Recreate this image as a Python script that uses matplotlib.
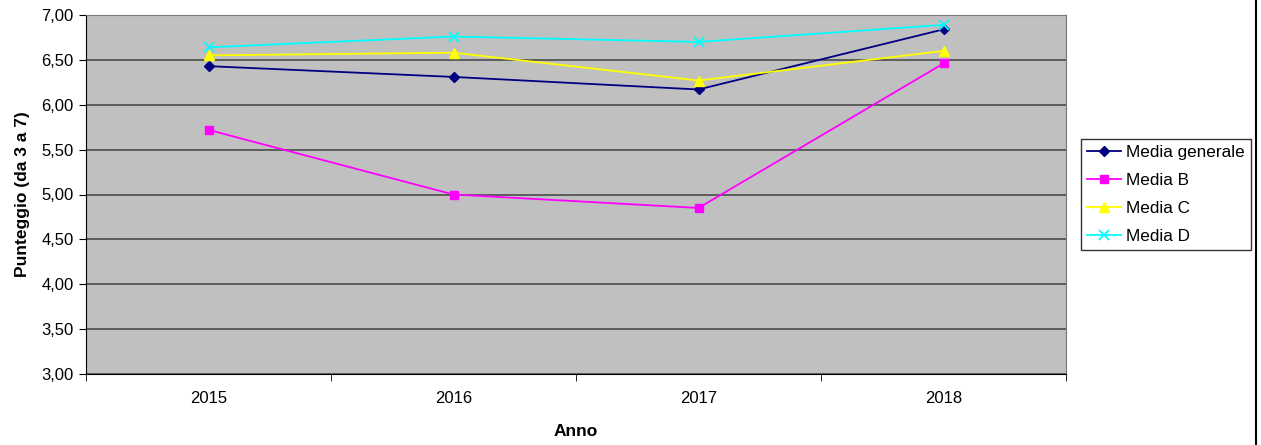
import numpy as np
import matplotlib.pyplot as plt
from matplotlib.lines import Line2D
from matplotlib.ticker import FixedLocator, FuncFormatter

plt.rcParams['font.family'] = ['Liberation Sans', 'DejaVu Sans']

# Dati
anni = ["2015", "2016", "2017", "2018"]
media_generale = [6.43, 6.31, 6.17, 6.84]
media_b = [5.72, 5.00, 4.85, 6.46]
media_c = [6.55, 6.58, 6.27, 6.60]
media_d = [6.64, 6.76, 6.70, 6.89]

fig = plt.figure(figsize=(12.61, 4.45), dpi=100)
ax = fig.add_axes([86 / 1261, 1 - 374 / 445, 980 / 1261, 359 / 445])
ax.set_facecolor("#c0c0c0")

x = np.arange(len(anni))
ax.plot(x, media_generale, color="#000080", marker="D", markersize=5, lw=1.3, label="Media generale")
ax.plot(x, media_b, color="#ff00ff", marker="s", markersize=6, lw=1.3, label="Media B")
ax.plot(x, media_c, color="#ffff00", marker="^", markersize=7, lw=1.3, label="Media C")
ax.plot(x, media_d, color="#00ffff", marker="x", markersize=7, mew=1.3, lw=1.3, label="Media D")

ax.set_xlim(-0.5, len(anni) - 0.5)
ax.set_ylim(3, 7)
ax.set_yticks(np.arange(3, 7.01, 0.5))
ax.yaxis.set_major_formatter(FuncFormatter(lambda v, p: f"{v:.2f}".replace(".", ",")))
ax.grid(axis="y", color="#555555", lw=1.3)
ax.set_axisbelow(True)

ax.set_xticks(x)
ax.set_xticklabels(anni)
ax.tick_params(axis="x", which="major", length=0, labelsize=12, pad=12)
ax.xaxis.set_minor_locator(FixedLocator(np.arange(-0.5, len(anni), 1)))
ax.tick_params(axis="x", which="minor", length=5, color="black")
ax.tick_params(axis="y", length=5, labelsize=12, color="black", pad=4)

for s in ["top", "right"]:
    ax.spines[s].set_color("#777777")
for s in ["left", "bottom"]:
    ax.spines[s].set_color("black")

ax.set_ylabel("Punteggio (da 3 a 7)", fontsize=12.5, fontweight="bold", labelpad=8)
ax.set_xlabel("Anno", fontsize=12.5, fontweight="bold", labelpad=13)

leg = ax.legend(loc="center left", bbox_to_anchor=(1.015, 0.5), fontsize=12.3,
                frameon=True, fancybox=False, edgecolor="black", borderpad=0.35,
                handlelength=2.0, handletextpad=0.3, labelspacing=0.76,
                borderaxespad=0)
leg.get_frame().set_linewidth(1.0)

fig.add_artist(Line2D([1256 / 1261, 1256 / 1261], [0, 1], color="black", lw=1.5))

fig.savefig("out.png", dpi=100)
